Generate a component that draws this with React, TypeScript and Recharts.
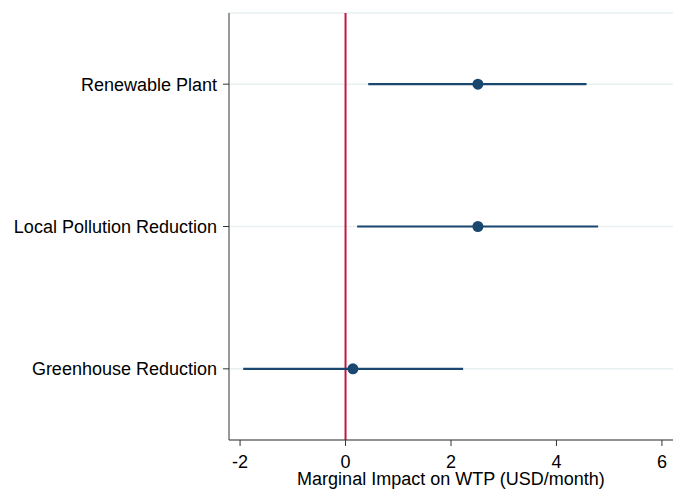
import React from 'react';
import { ComposedChart, Scatter, XAxis, YAxis, CartesianGrid, ReferenceLine, ErrorBar } from 'recharts';

const categories = ['Renewable Plant', 'Local Pollution Reduction', 'Greenhouse Reduction'];
const estimates = [2.51, 2.51, 0.14];
const lowerCI = [0.43, 0.22, -1.94];
const upperCI = [4.57, 4.79, 2.23];
const xTicks = [-2, 0, 2, 4, 6];

const data = categories.map((c, i) => ({
  pos: i + 1,
  name: c,
  est: estimates[i],
  err: [estimates[i] - lowerCI[i], upperCI[i] - estimates[i]],
}));

const FONT = 'Liberation Sans, Arial, sans-serif';

export default function App() {
  return (
    <div style={{ position: 'absolute', left: 0, top: 0, background: '#fff' }}>
      <ComposedChart width={678} height={489} data={data} margin={{ top: 13, right: 5, bottom: 0, left: 0 }}>
        <CartesianGrid vertical={false} stroke="#e8f0f2" strokeWidth={1.5} />
        <XAxis
          type="number"
          dataKey="est"
          domain={[-2.21, 6.21]}
          ticks={xTicks}
          allowDataOverflow
          height={49}
          tickSize={6}
          tickMargin={9}
          stroke="#333"
          tick={{ fill: '#000', fontSize: 18, fontFamily: FONT }}
          label={{ value: 'Marginal Impact on WTP (USD/month)', position: 'insideBottom', offset: 4, fill: '#000', fontSize: 18, fontFamily: FONT }}
        />
        <YAxis
          type="number"
          dataKey="pos"
          domain={[0.5, 3.5]}
          ticks={[1, 2, 3]}
          reversed
          width={229}
          tickSize={6}
          tickMargin={6}
          stroke="#333"
          tickFormatter={(v: number) => categories[v - 1] ?? ''}
          tick={{ fill: '#000', fontSize: 18, fontFamily: FONT }}
        />
        <ReferenceLine x={0} stroke="#c4173f" strokeWidth={2} />
        <Scatter dataKey="est" fill="#1a476f" isAnimationActive={false} shape={(p: any) => <circle cx={p.cx} cy={p.cy} r={5.5} fill="#1a476f" />}>
          <ErrorBar dataKey="err" direction="x" width={0} stroke="#1a476f" strokeWidth={2.2} />
        </Scatter>
      </ComposedChart>
    </div>
  );
}
